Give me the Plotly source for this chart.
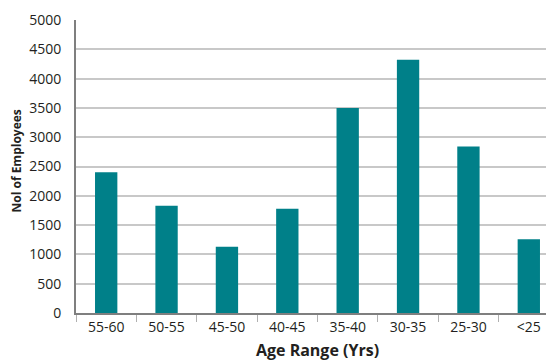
import plotly.graph_objects as go

categories = ["55-60", "50-55", "45-50", "40-45", "35-40", "30-35", "25-30", "<25"]
employees = [2400, 1830, 1130, 1780, 3500, 4320, 2840, 1260]
y_ticks = [0, 500, 1000, 1500, 2000, 2500, 3000, 3500, 4000, 4500, 5000]

fig = go.Figure(go.Bar(x=categories, y=employees, marker_color="#008089",
                       marker_line_width=0))

font_fam = "Open Sans, Noto Sans, sans-serif"
fig.update_layout(
    width=554, height=364,
    margin=dict(l=68, r=3, t=12, b=59, autoexpand=False),
    paper_bgcolor="white", plot_bgcolor="white",
    bargap=0.63,
    showlegend=False,
    font=dict(family=font_fam, size=12, color="#231f20"),
)
fig.update_xaxes(
    type="category", automargin=False,
    showline=True, linecolor="#7f7f7f", linewidth=2,
    ticks="outside", tickson="boundaries", ticklen=7, tickcolor="#b0b0b0", tickwidth=1,
    showgrid=False,
    tickfont=dict(size=14),
    title=dict(text="<b>Age Range (Yrs)</b>", font=dict(size=16), standoff=10),
)
fig.update_yaxes(
    range=[0, 5000], tickvals=y_ticks, automargin=False,
    showline=True, linecolor="#7f7f7f", linewidth=2,
    showgrid=True, gridcolor="#c8c8c8", gridwidth=1.5,
    zeroline=False,
    ticks="", ticklabelstandoff=10,
    tickfont=dict(size=14),
)
fig.add_annotation(
    text="<b>Nol of Employees</b>", xref="paper", yref="paper",
    x=0, y=0.517, xshift=-59, xanchor="center", yanchor="middle",
    textangle=-90, showarrow=False, borderpad=0,
    font=dict(size=12, color="#231f20"),
)
fig.write_html("out.html")
